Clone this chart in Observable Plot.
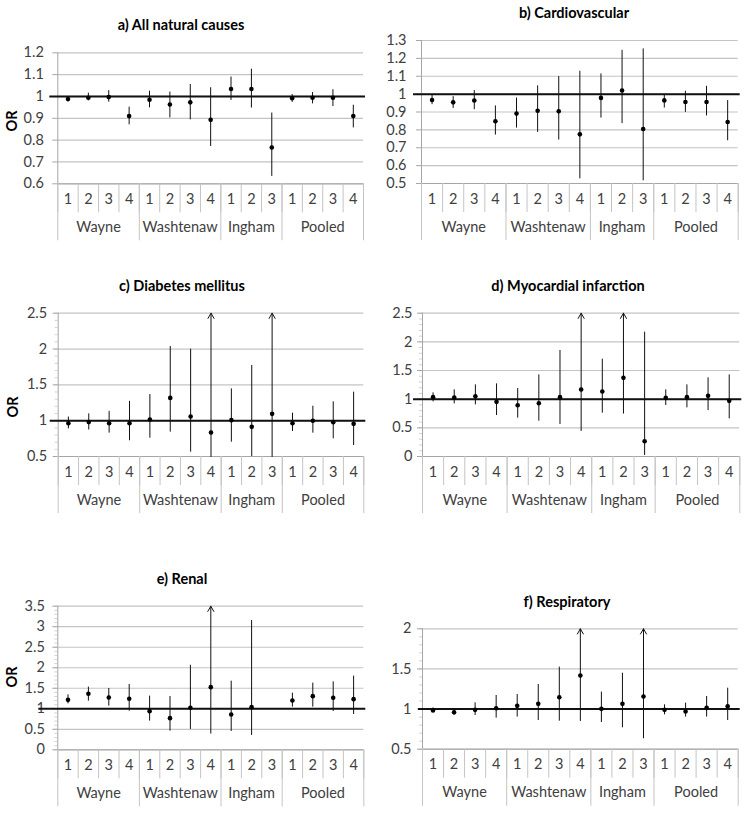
<!DOCTYPE html>
<html>
<head>
<meta charset="utf-8">
<script src="https://cdn.jsdelivr.net/npm/d3@7"></script>
<script src="https://cdn.jsdelivr.net/npm/@observablehq/plot@0.6"></script>
<style>
  html, body { margin: 0; padding: 0; background: #fff; }
  #wrap { position: relative; width: 752px; height: 814px; overflow: hidden; font-family: Lato, "Open Sans", sans-serif; }
  .panel { position: absolute; }
  .title { position: absolute; width: 320px; text-align: center; font-weight: bold; font-size: 14.5px; color: #000; line-height: 18px; white-space: nowrap; }
  .ylab { position: absolute; font-weight: bold; font-size: 14.5px; color: #000; transform: translate(-50%, -50%) rotate(-90deg); line-height: 16px; }
</style>
</head>
<body>
<div id="wrap"></div>
<script>
// ---- categories ----
const groups = ["Wayne", "Washtenaw", "Ingham", "Pooled"];
const lagsPerGroup = [4, 4, 3, 4];
const lagLabels = ["1","2","3","4","1","2","3","4","1","2","3","1","2","3","4"];

// ---- a) All natural causes ----
const aOR = [0.988, 0.994, 0.997, 0.910, 0.985, 0.963, 0.973, 0.893, 1.034, 1.034, 0.766, 0.992, 0.994, 0.994, 0.910];
const aLo = [0.976, 0.980, 0.974, 0.870, 0.948, 0.902, 0.893, 0.771, 0.982, 0.947, 0.634, 0.973, 0.966, 0.954, 0.856];
const aHi = [1.000, 1.015, 1.027, 0.951, 1.024, 1.020, 1.055, 1.040, 1.089, 1.125, 0.924, 1.009, 1.018, 1.031, 0.960];
const aTicks = [0.6, 0.7, 0.8, 0.9, 1, 1.1, 1.2];

// ---- b) Cardiovascular ----
const bOR = [0.967, 0.954, 0.964, 0.848, 0.891, 0.907, 0.904, 0.775, 0.979, 1.020, 0.805, 0.965, 0.956, 0.956, 0.844];
const bLo = [0.941, 0.920, 0.913, 0.771, 0.810, 0.786, 0.743, 0.526, 0.866, 0.835, 0.515, 0.922, 0.898, 0.878, 0.739];
const bHi = [0.993, 0.986, 1.020, 0.934, 0.978, 1.046, 1.098, 1.128, 1.113, 1.245, 1.253, 0.997, 1.016, 1.044, 0.964];
const bTicks = [0.5, 0.6, 0.7, 0.8, 0.9, 1, 1.1, 1.2, 1.3];

// ---- c) Diabetes mellitus ----
const cOR = [0.965, 0.980, 0.965, 0.965, 1.016, 1.318, 1.058, 0.835, 1.007, 0.914, 1.095, 0.965, 0.998, 0.979, 0.956];
const cLo = [0.886, 0.870, 0.826, 0.720, 0.756, 0.840, 0.560, 0.480, 0.700, 0.490, 0.470, 0.849, 0.826, 0.747, 0.653];
const cHi = [1.050, 1.095, 1.130, 1.270, 1.365, 2.035, 1.998, 2.900, 1.444, 1.770, 2.900, 1.105, 1.202, 1.263, 1.398];
const cTicks = [0.5, 1, 1.5, 2, 2.5];

// ---- d) Myocardial infarction ----
const dOR = [1.035, 1.030, 1.052, 0.953, 0.895, 0.930, 1.035, 1.170, 1.134, 1.372, 0.267, 1.023, 1.035, 1.058, 0.971];
const dLo = [0.953, 0.919, 0.900, 0.715, 0.669, 0.616, 0.558, 0.453, 0.756, 0.756, 0.017, 0.890, 0.849, 0.802, 0.657];
const dHi = [1.110, 1.163, 1.250, 1.267, 1.186, 1.424, 1.849, 2.900, 1.698, 2.900, 2.169, 1.163, 1.250, 1.372, 1.424];
const dTicks = [0, 0.5, 1, 1.5, 2, 2.5];

// ---- e) Renal ----
const eOR = [1.218, 1.365, 1.276, 1.243, 0.942, 0.772, 1.024, 1.527, 0.861, 1.040, null, 1.202, 1.308, 1.268, 1.235];
const eLo = [1.120, 1.186, 1.064, 0.942, 0.699, 0.455, 0.496, 0.406, 0.447, 0.350, null, 1.040, 1.040, 0.934, 0.861];
const eHi = [1.340, 1.527, 1.495, 1.592, 1.308, 1.300, 2.060, 4.200, 1.673, 3.150, null, 1.381, 1.625, 1.657, 1.796];
const eTicks = [0, 0.5, 1, 1.5, 2, 2.5, 3, 3.5];

// ---- f) Respiratory ----
const fOR = [0.982, 0.961, 0.990, 1.011, 1.040, 1.065, 1.148, 1.418, 1.003, 1.065, 1.157, 0.990, 0.970, 1.015, 1.036];
const fLo = [0.957, 0.920, 0.920, 0.887, 0.900, 0.857, 0.849, 0.857, 0.832, 0.766, 0.641, 0.928, 0.900, 0.900, 0.857];
const fHi = [1.015, 1.003, 1.078, 1.169, 1.182, 1.306, 1.522, 2.400, 1.211, 1.447, 2.400, 1.053, 1.074, 1.157, 1.260];
const fTicks = [0.5, 1, 1.5, 2];

const panels = [
  {title: "a) All natural causes", or: aOR, lo: aLo, hi: aHi, ticks: aTicks, minor: false,
   left: 0, top: 0, width: 376, height: 270, ml: 57.3, mr: 13, mt: 52.3, mb: 86.7, gap: 14, ext: 8,
   tx: 181, ty: 25, ylab: [12, 121]},
  {title: "b) Cardiovascular", or: bOR, lo: bLo, hi: bHi, ticks: bTicks, minor: false,
   left: 376, top: 0, width: 376, height: 270, ml: 45, mr: 14.3, mt: 40, mb: 87, gap: 15, ext: 8,
   tx: 574, ty: 13},
  {title: "c) Diabetes mellitus", or: cOR, lo: cLo, hi: cHi, ticks: cTicks, minor: true,
   left: 0, top: 270, width: 376, height: 270, ml: 57.7, mr: 12.7, mt: 42.7, mb: 84, gap: 11, ext: 8,
   tx: 182, ty: 285.7, ylab: [13, 407]},
  {title: "d) Myocardial infarction", or: dOR, lo: dLo, hi: dHi, ticks: dTicks, minor: true,
   left: 376, top: 270, width: 376, height: 270, ml: 46, mr: 12.7, mt: 42.7, mb: 84, gap: 10, ext: 9,
   tx: 568, ty: 285.7},
  {title: "e) Renal", or: eOR, lo: eLo, hi: eHi, ticks: eTicks, minor: true,
   left: 0, top: 540, width: 376, height: 274, ml: 57.3, mr: 12.7, mt: 65.7, mb: 64.7, gap: 13, ext: 19,
   tx: 182, ty: 579, ylab: [12, 677]},
  {title: "f) Respiratory", or: fOR, lo: fLo, hi: fHi, ticks: fTicks, minor: true,
   left: 376, top: 540, width: 376, height: 274, ml: 46, mr: 14.3, mt: 88.3, mb: 65.3, gap: 11, ext: 4,
   tx: 567, ty: 601.7}
];

const grid = "#c4c4c4";
const axisGray = "#a6a6a6";
const ink = "#111";
const wrap = document.getElementById("wrap");

const bounds = d3.range(lagLabels.length + 1);
const groupBounds = [0, ...d3.cumsum(lagsPerGroup)];
const groupRows = groups.map((g, k) => ({g, c: (groupBounds[k] + groupBounds[k + 1]) / 2}));

for (const p of panels) {
  const rows = lagLabels.map((lab, i) => ({c: i + 0.5, lab, or: p.or[i], lo: p.lo[i], hi: p.hi[i]}));
  const y0 = p.ticks[0], y1 = p.ticks[p.ticks.length - 1];
  const plotW = p.width - p.ml - p.mr;
  const plotH = p.height - p.mt - p.mb;
  const normal = rows.filter(d => d.hi != null && d.hi <= y1);
  const arrows = rows.filter(d => d.hi != null && d.hi > y1);
  const minorTicks = p.minor ? d3.range(Math.round(y0 * 10), Math.round(y1 * 10) + 1).map(v => v / 10) : [];

  const svg = Plot.plot({
    width: p.width, height: p.height,
    marginLeft: p.ml, marginRight: p.mr, marginTop: p.mt, marginBottom: p.mb,
    x: {domain: [0, lagLabels.length], axis: null},
    y: {domain: [y0, y1], axis: null, clamp: true},
    style: {fontFamily: "Lato, 'Open Sans', sans-serif", fontSize: "14.5px", color: "#404040", background: "transparent", overflow: "visible"},
    marks: [
      Plot.ruleY(p.ticks, {stroke: grid, strokeWidth: 1.2}),
      Plot.ruleY(minorTicks, {stroke: "#c8c8c8", insetLeft: -3, insetRight: plotW, strokeWidth: 0.8}),
      Plot.ruleY(p.ticks, {stroke: axisGray, insetLeft: -5, insetRight: plotW}),
      Plot.text(p.ticks, {y: d => d, text: d => String(d), frameAnchor: "left", dx: -p.gap, textAnchor: "end", fill: "#404040"}),
      Plot.ruleX([0], {stroke: axisGray}),
      Plot.ruleY([y0], {stroke: axisGray}),
      Plot.ruleX(bounds, {x: d => d, stroke: grid, insetTop: plotH, insetBottom: -29}),
      Plot.ruleX(groupBounds, {x: d => d, stroke: grid, insetTop: plotH, insetBottom: -57}),
      Plot.text(rows, {x: "c", text: "lab", frameAnchor: "bottom", dy: 20, fill: "#404040"}),
      Plot.text(groupRows, {x: "c", text: "g", frameAnchor: "bottom", dy: 48, fill: "#404040"}),
      Plot.ruleY([1], {stroke: ink, strokeWidth: 2, insetLeft: -p.ext, insetRight: -2}),
      Plot.ruleX(normal, {x: "c", y1: "lo", y2: "hi", stroke: ink, strokeWidth: 1}),
      Plot.arrow(arrows, {x1: "c", x2: "c", y1: "lo", y2: "hi", stroke: ink, strokeWidth: 1, headLength: 9, headAngle: 60}),
      Plot.dot(rows, {x: "c", y: "or", r: 2.3, fill: "#000", stroke: null})
    ]
  });
  const div = document.createElement("div");
  div.className = "panel";
  div.style.left = p.left + "px";
  div.style.top = p.top + "px";
  div.appendChild(svg);
  wrap.appendChild(div);

  const t = document.createElement("div");
  t.className = "title";
  t.textContent = p.title;
  t.style.left = (p.tx - 160) + "px";
  t.style.top = (p.ty - 9) + "px";
  wrap.appendChild(t);

  if (p.ylab) {
    const yl = document.createElement("div");
    yl.className = "ylab";
    yl.textContent = "OR";
    yl.style.left = p.ylab[0] + "px";
    yl.style.top = p.ylab[1] + "px";
    wrap.appendChild(yl);
  }
}
</script>
</body>
</html>
